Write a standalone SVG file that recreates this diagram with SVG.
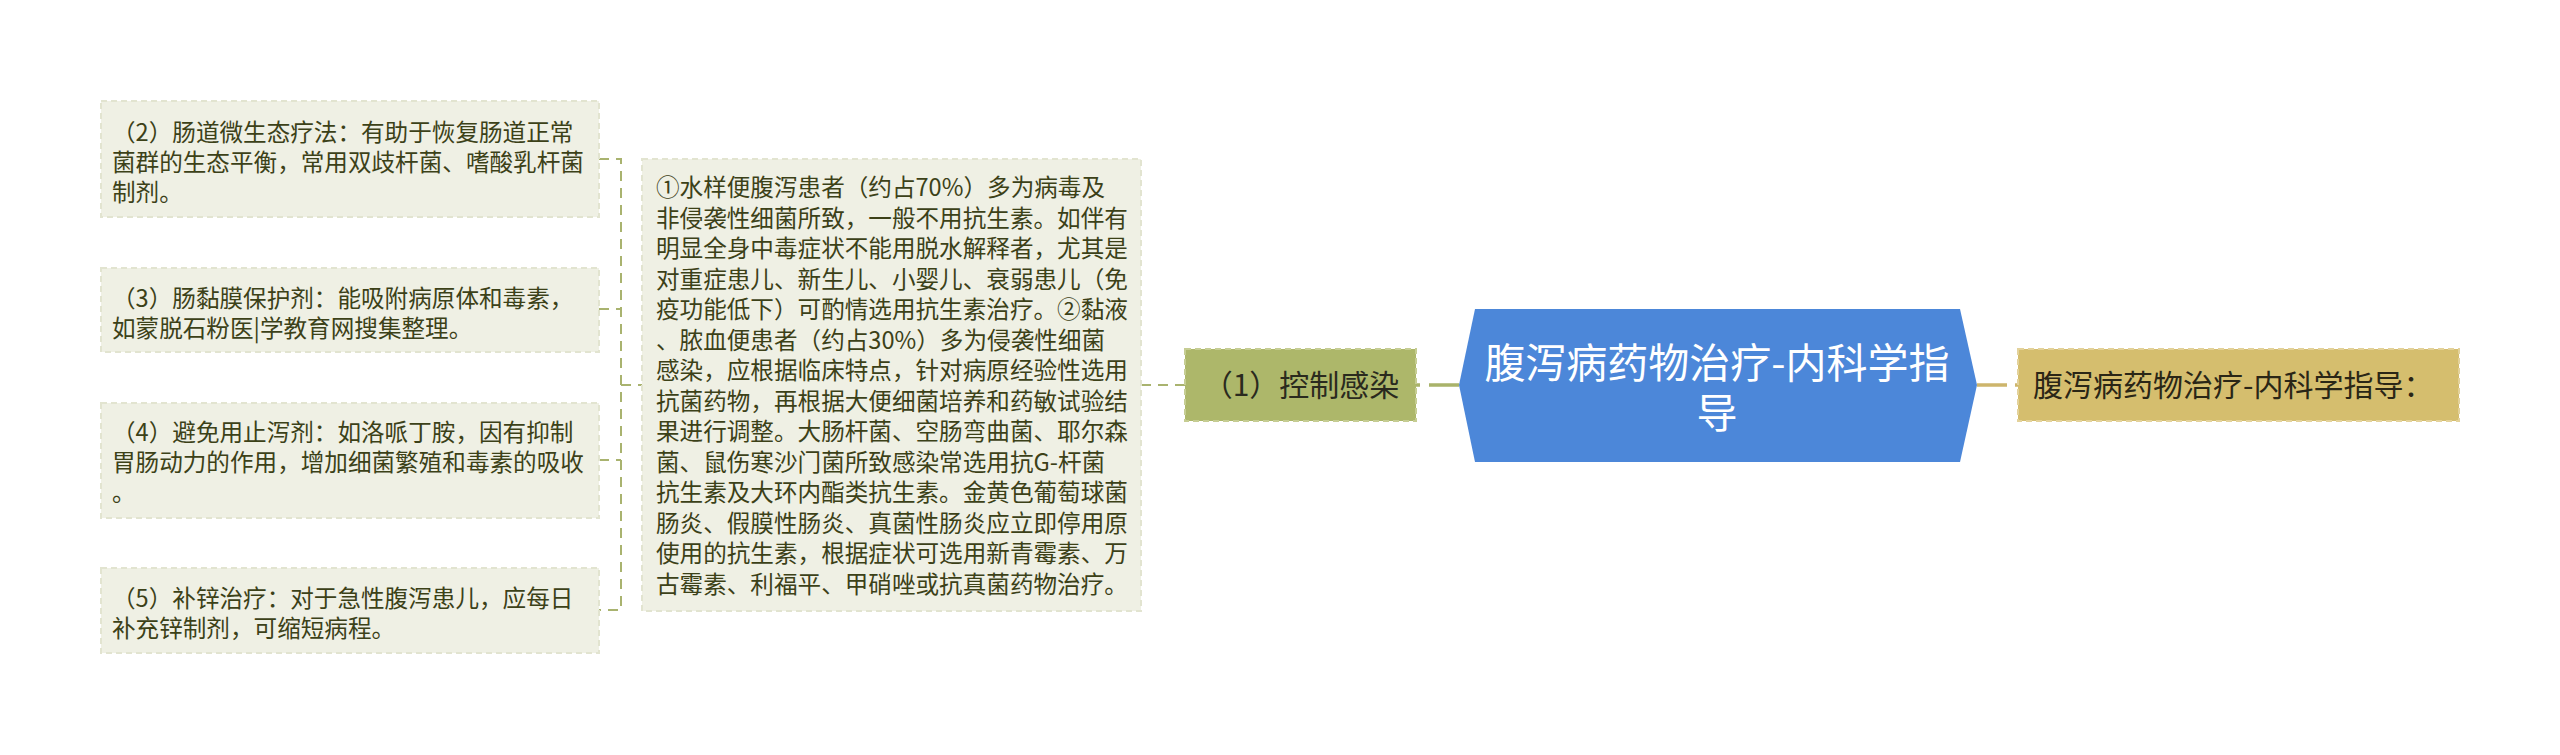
<svg xmlns="http://www.w3.org/2000/svg" width="2560" height="755" viewBox="0 0 2560 755">
<style>
.t{font-family:"Noto Sans CJK SC","Noto Sans",sans-serif;}
.leaf rect{fill:#eff0e4;stroke:#e2e4d0;stroke-width:2;stroke-dasharray:6 4;}
.leaf text{font-size:23.6px;fill:#3c4118;}
.thin{fill:none;stroke:#a9b36f;stroke-width:2;stroke-dasharray:10 7;}
</style>
<rect width="2560" height="755" fill="#ffffff"/>
<g id="connectors">
<path class="thin" d="M599,159 H621 V610 H599 M599,309 H621 M599,460 H621 M621,385 H642 M1141,385 H1185"/>
<path d="M1459,385 H1416" fill="none" stroke="#a9b36a" stroke-width="3.5" stroke-dasharray="30 9"/>
<path d="M1977,385 H2018" fill="none" stroke="#cdb56c" stroke-width="3.5" stroke-dasharray="30 8"/>
</g>
<g id="node-2" class="leaf t">
<rect x="101" y="101" width="498" height="116"/>
<text x="112" y="141">（2）肠道微生态疗法：有助于恢复肠道正常</text>
<text x="112" y="171">菌群的生态平衡，常用双歧杆菌、嗜酸乳杆菌</text>
<text x="112" y="201">制剂。</text>
</g>
<g id="node-3" class="leaf t">
<rect x="101" y="268" width="498" height="84"/>
<text x="112" y="307">（3）肠黏膜保护剂：能吸附病原体和毒素，</text>
<text x="112" y="337">如蒙脱石粉医|学教育网搜集整理。</text>
</g>
<g id="node-4" class="leaf t">
<rect x="101" y="403" width="498" height="115"/>
<text x="112" y="441">（4）避免用止泻剂：如洛哌丁胺，因有抑制</text>
<text x="112" y="471">胃肠动力的作用，增加细菌繁殖和毒素的吸收</text>
<text x="112" y="501">。</text>
</g>
<g id="node-5" class="leaf t">
<rect x="101" y="568" width="498" height="85"/>
<text x="112" y="607">（5）补锌治疗：对于急性腹泻患儿，应每日</text>
<text x="112" y="637">补充锌制剂，可缩短病程。</text>
</g>
<g id="node-detail" class="leaf t">
<rect x="642" y="159" width="499" height="452"/>
<text x="656" y="196">①水样便腹泻患者（约占70%）多为病毒及</text>
<text x="656" y="226.5">非侵袭性细菌所致，一般不用抗生素。如伴有</text>
<text x="656" y="257">明显全身中毒症状不能用脱水解释者，尤其是</text>
<text x="656" y="287.5">对重症患儿、新生儿、小婴儿、衰弱患儿（免</text>
<text x="656" y="318">疫功能低下）可酌情选用抗生素治疗。②黏液</text>
<text x="656" y="348.5">、脓血便患者（约占30%）多为侵袭性细菌</text>
<text x="656" y="379">感染，应根据临床特点，针对病原经验性选用</text>
<text x="656" y="409.5">抗菌药物，再根据大便细菌培养和药敏试验结</text>
<text x="656" y="440">果进行调整。大肠杆菌、空肠弯曲菌、耶尔森</text>
<text x="656" y="470.5">菌、鼠伤寒沙门菌所致感染常选用抗G-杆菌</text>
<text x="656" y="501">抗生素及大环内酯类抗生素。金黄色葡萄球菌</text>
<text x="656" y="531.5">肠炎、假膜性肠炎、真菌性肠炎应立即停用原</text>
<text x="656" y="562">使用的抗生素，根据症状可选用新青霉素、万</text>
<text x="656" y="592.5">古霉素、利福平、甲硝唑或抗真菌药物治疗。</text>
</g>
<g id="node-control" class="t">
<rect x="1185" y="349" width="231" height="72" fill="#adb76a" stroke="#c6cd93" stroke-width="2" stroke-dasharray="6 4"/>
<text x="1301" y="396" text-anchor="middle" font-size="30" fill="#2a2a1e">（1）控制感染</text>
</g>
<g id="node-root" class="t">
<polygon points="1475,309 1960,309 1977,385 1960,462 1475,462 1459,385" fill="#4c87d9"/>
<text x="1717" y="378" text-anchor="middle" font-size="41" fill="#ffffff">腹泻病药物治疗-内科学指</text>
<text x="1717" y="428" text-anchor="middle" font-size="41" fill="#ffffff">导</text>
</g>
<g id="node-right" class="t">
<rect x="2018" y="349" width="441" height="72" fill="#d5be6e" stroke="#e3d29b" stroke-width="2" stroke-dasharray="6 4"/>
<text x="2033" y="396" font-size="30" fill="#2a2616">腹泻病药物治疗-内科学指导：</text>
</g>
</svg>
